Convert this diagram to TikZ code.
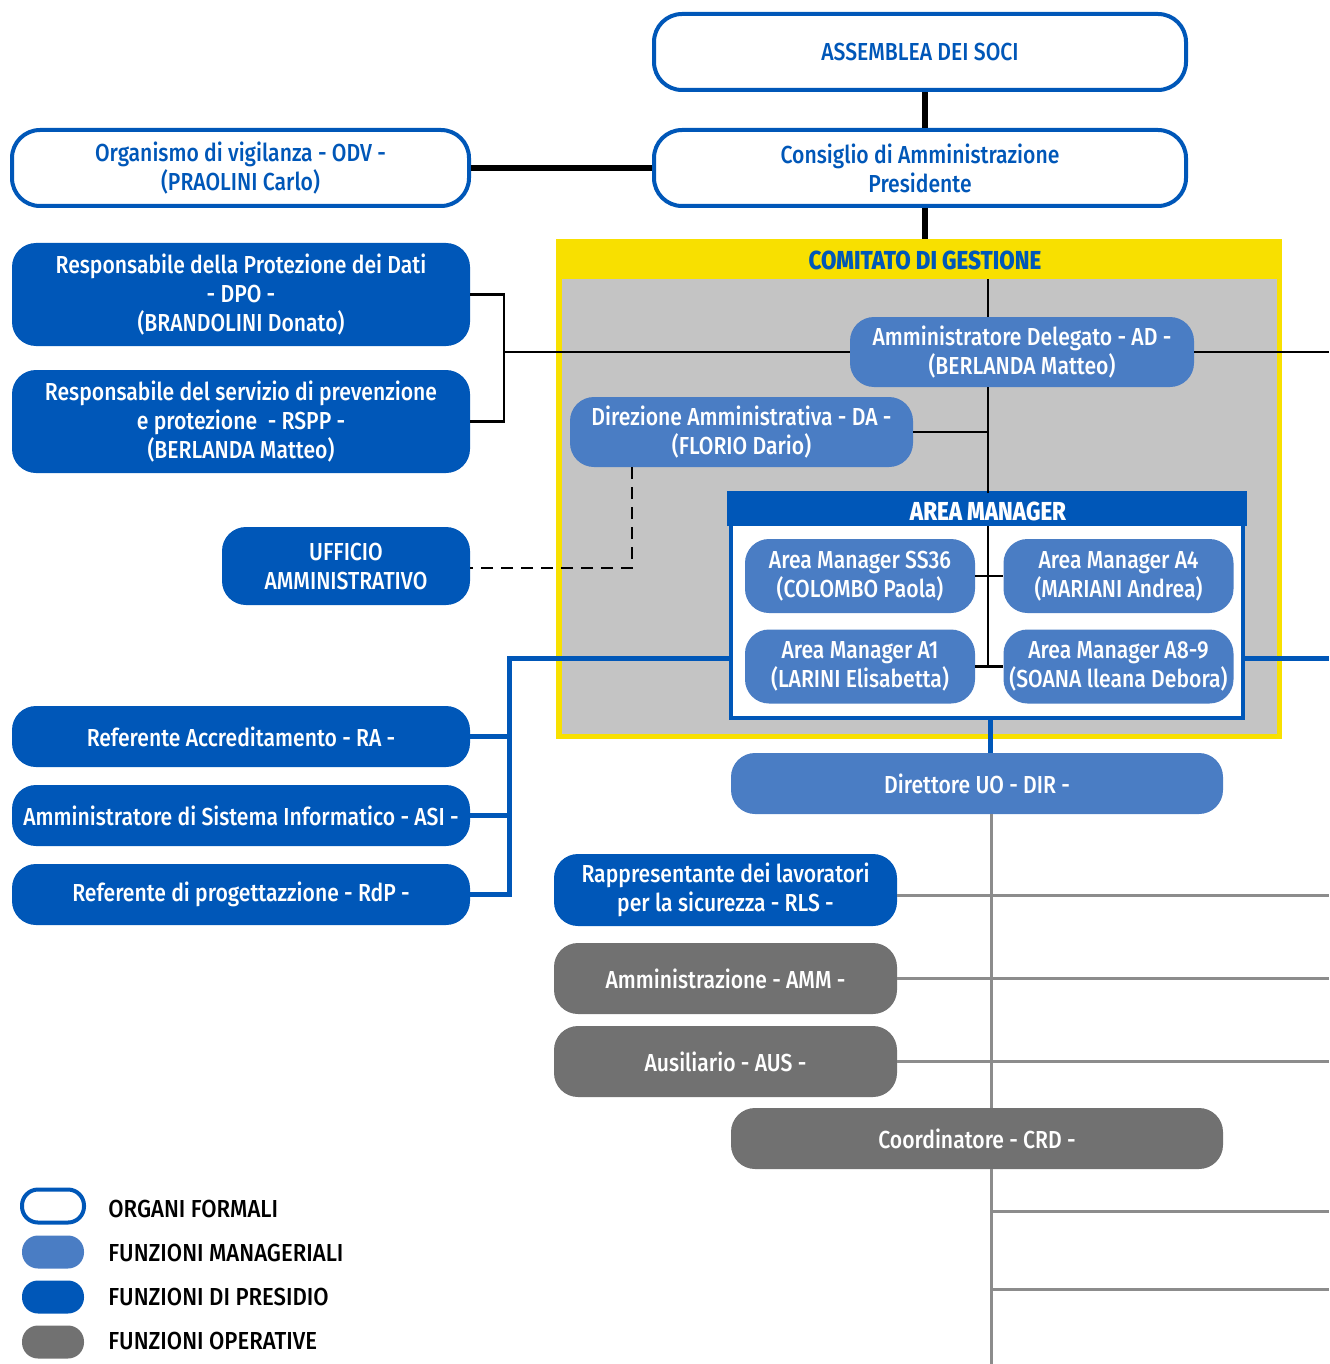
\documentclass[tikz,border=0pt]{standalone}
\usepackage{fontspec}
\setmainfont{Fira Sans}[FakeStretch=0.86, UprightFont={Fira Sans Medium}]
\newfontfamily\keyfont{Fira Sans}[FakeStretch=0.9, UprightFont={Fira Sans Medium}]
\usetikzlibrary{positioning}

\definecolor{presidio}{RGB}{0,87,184}
\definecolor{manager}{RGB}{74,125,196}
\definecolor{operativo}{RGB}{113,113,113}
\definecolor{giallo}{RGB}{248,224,0}
\definecolor{sfondo}{RGB}{196,196,196}
\definecolor{linea}{RGB}{140,140,140}

\begin{document}
\begin{tikzpicture}
  [
    x=0.5pt, y=-0.5pt,
    box/.style={align=center, inner sep=0pt, font=\fontsize{12.3}{14.5}\selectfont, rounded corners=12pt},
    org box/.style={box, draw=presidio, line width=2pt, fill=white, text=presidio, minimum height=38pt, rounded corners=14pt},
    man box/.style={box, fill=manager, text=white},
    pres box/.style={box, fill=presidio, text=white},
    op box/.style={box, fill=operativo, text=white},
    black line/.style={draw=black, line width=1.3pt},
    heavy line/.style={draw=black, line width=3pt},
    blue line/.style={draw=presidio, line width=2.5pt},
    grey line/.style={draw=linea, line width=1.5pt},
    key/.style={minimum width=31pt, minimum height=16.5pt, rounded corners=8pt, inner sep=0pt},
    key text/.style={font=\keyfont\fontsize{12.3}{14}\selectfont, anchor=west, inner sep=0pt}
    ]
  \useasboundingbox (0,0) rectangle (1329,1364);

  % comitato di gestione
  \node [fill=giallo, minimum width=363pt, minimum height=250pt, inner sep=0pt] (comitato) at (919,489) {};
  \fill [sfondo] (562,279) rectangle (1277,734);
  \node [font=\fontsize{13}{14}\bfseries, text=presidio] (cdg) at (925,260) {COMITATO DI GESTIONE};

  % organi formali
  \node [org box, minimum width=266pt] (assemblea) at (920,52) {ASSEMBLEA DEI SOCI};
  \node [org box, minimum width=266pt] (consiglio) [below of=assemblea, node distance=58pt] {Consiglio di Amministrazione\\Presidente};
  \node [org box, minimum width=228.5pt] (odv) at (240.5,168) {Organismo di vigilanza - ODV -\\(PRAOLINI Carlo)};

  % presidio a sinistra
  \node [pres box, minimum width=229pt, minimum height=51.5pt] (dpo) at (241,294.5) {Responsabile della Protezione dei Dati\\- DPO -\\(BRANDOLINI Donato)};
  \node [pres box, minimum width=229pt, minimum height=51.5pt] (rspp) [below of=dpo, node distance=63.5pt] {Responsabile del servizio di prevenzione\\e protezione\ \ - RSPP -\\(BERLANDA Matteo)};
  \node [pres box, minimum width=124pt, minimum height=39pt] (ufficio) at (346,566) {UFFICIO\\AMMINISTRATIVO};
  \node [pres box, minimum width=229pt, minimum height=30.5pt] (ra) at (241,736.5) {Referente Accreditamento - RA -};
  \node [pres box, minimum width=229pt, minimum height=30.5pt] (asi) [below of=ra, node distance=39.5pt] {Amministratore di Sistema Informatico - ASI -};
  \node [pres box, minimum width=229pt, minimum height=30.5pt] (rdp) [below of=asi, node distance=39.5pt] {Referente di progettazzione - RdP -};

  % funzioni manageriali
  \node [man box, minimum width=172pt, minimum height=35pt] (ad) at (1022,352) {Amministratore Delegato - AD -\\(BERLANDA Matteo)};
  \node [man box, minimum width=171.5pt, minimum height=35pt] (da) at (741.5,432) {Direzione Amministrativa - DA -\\(FLORIO Dario)};

  % area manager
  \node [draw=presidio, line width=2pt, fill=white, minimum width=256pt, minimum height=111.5pt, inner sep=0pt] (areabox) at (987,606.5) {};
  \fill [presidio] ([xshift=-1pt, yshift=1pt]areabox.north west) rectangle ([xshift=1pt, yshift=-16.5pt]areabox.north east);
  \node [font=\fontsize{13}{14}\bfseries, text=white] (amtitle) at (988,511) {AREA MANAGER};
  \node [man box, minimum width=115pt, minimum height=37pt] (ss36) at (860,576) {Area Manager SS36\\(COLOMBO Paola)};
  \node [man box, minimum width=115pt, minimum height=37pt] (a4) [right of=ss36, node distance=129.25pt] {Area Manager A4\\(MARIANI Andrea)};
  \node [man box, minimum width=115pt, minimum height=37pt] (a1) [below of=ss36, node distance=45.25pt] {Area Manager A1\\(LARINI Elisabetta)};
  \node [man box, minimum width=115pt, minimum height=37pt] (a89) [right of=a1, node distance=129.25pt] {Area Manager A8-9\\(SOANA lleana Debora)};

  \node [man box, minimum width=246pt, minimum height=30.5pt] (dir) at (977,783.5) {Direttore UO - DIR -};

  % funzioni operative
  \node [pres box, minimum width=171.5pt, minimum height=36pt] (rls) at (725.5,890) {Rappresentante dei lavoratori\\per la sicurezza - RLS -};
  \node [op box, minimum width=171.5pt, minimum height=35.5pt] (amm) at (725.5,978.5) {Amministrazione - AMM -};
  \node [op box, minimum width=171.5pt, minimum height=35.5pt] (aus) [below of=amm, node distance=41.5pt] {Ausiliario - AUS -};
  \node [op box, minimum width=246pt, minimum height=30.5pt] (crd) at (977,1138.5) {Coordinatore - CRD -};

  % punti di snodo
  \coordinate (asse) at (925,0);
  \coordinate (nodo) at (504,352);
  \coordinate (col) at (988,279);
  \coordinate (tratt) at (632,568);
  \coordinate (blu) at (509,658);
  \coordinate (griglia) at (991,1364);
  \coordinate (bordo) at (1329,0);

  % collegamenti
  \draw [heavy line] (assemblea.south -| asse) -- (consiglio.north -| asse);
  \draw [heavy line] (consiglio.south -| asse) -- (comitato.north -| asse);
  \draw [heavy line] (odv.east) -- (consiglio.west);

  \draw [black line] (dpo.east) -| (nodo) |- (rspp.east);
  \draw [black line] (nodo) -- (ad.west);
  \draw [black line] (ad.east) -- (ad.east -| bordo);
  \draw [black line] (col) -- (ad.north -| col);
  \draw [black line] (ad.south -| col) -- (areabox.north -| col);
  \draw [black line] (da.east) -- (da.east -| col);
  \draw [black line, dashed, dash pattern=on 6pt off 4pt] (da.south -| tratt) -- (tratt) -- (ufficio.east |- tratt);

  \draw [black line] ([yshift=-16.5pt]areabox.north -| col) -- (a1.east -| col);
  \draw [black line] (ss36.east) -- (a4.west);
  \draw [black line] (a1.east) -- (a89.west);

  \draw [blue line] (areabox.west |- blu) -- (blu) |- (rdp.east);
  \draw [blue line] (ra.east) -- (ra.east -| blu);
  \draw [blue line] (asi.east) -- (asi.east -| blu);
  \draw [blue line] (areabox.east |- blu) -- (blu -| bordo);
  \draw [blue line] (areabox.south -| 990,0) -- (dir.north -| 990,0);

  \draw [grey line] (dir.south -| griglia) -- (crd.north -| griglia);
  \draw [grey line] (crd.south -| griglia) -- (griglia);
  \draw [grey line] (rls.east |- 0,895) -- (bordo |- 0,895);
  \draw [grey line] (amm.east) -- (amm.east -| bordo);
  \draw [grey line] (aus.east) -- (aus.east -| bordo);
  \draw [grey line] (griglia |- 0,1211) -- (bordo |- 0,1211);
  \draw [grey line] (griglia |- 0,1289) -- (bordo |- 0,1289);

  % legenda
  \node [key, draw=presidio, line width=2pt, fill=white] (k1) at (53,1206) {};
  \node [key, fill=manager] (k2) [below of=k1, node distance=23pt] {};
  \node [key, fill=presidio] (k3) [below of=k2, node distance=22.5pt] {};
  \node [key, fill=operativo] (k4) [below of=k3, node distance=22.5pt] {};
  \node [key text] (t1) at (108,1209) {ORGANI FORMALI};
  \node [key text] (t2) at (108,1253) {FUNZIONI MANAGERIALI};
  \node [key text] (t3) at (108,1297) {FUNZIONI DI PRESIDIO};
  \node [key text] (t4) at (108,1341) {FUNZIONI OPERATIVE};
\end{tikzpicture}
\end{document}
